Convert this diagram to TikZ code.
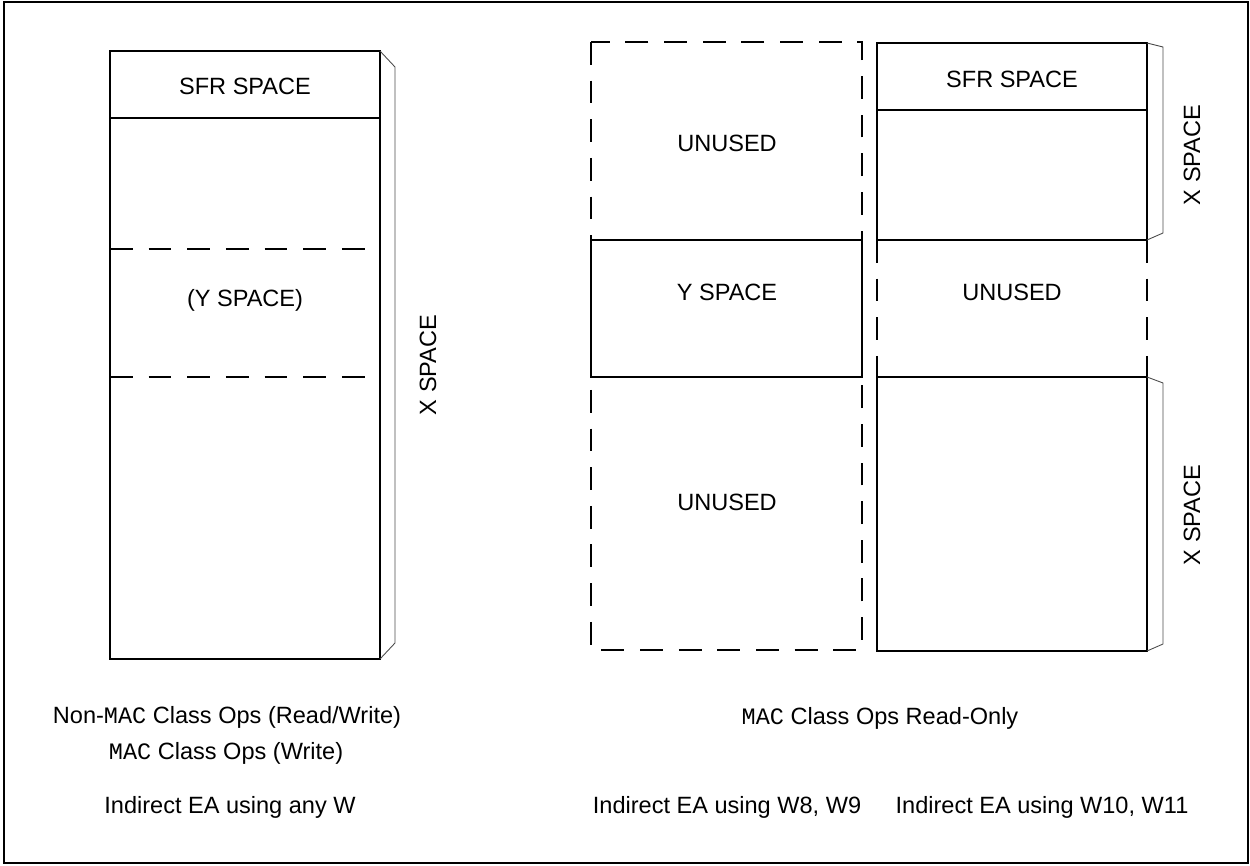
\documentclass[tikz,border=0pt]{standalone}
\usepackage{fontspec}
\setmainfont{Liberation Sans}
\setmonofont{Liberation Mono}
\begin{document}
\begin{tikzpicture}[x=0.02cm, y=-0.02cm, line width=1.1pt,
    lbl/.style={font=\fontsize{13.4}{16}\selectfont, inner sep=0pt},
    vlbl/.style={lbl, rotate=90},
    dash line/.style={dash pattern=on 13pt off 9pt},
    side/.style={line width=0.5pt, draw=black!70}]

    \useasboundingbox (0,0) rectangle (1250,865);
    \draw (4,2) rectangle (1248,863);

    % left column
    \draw (110,51) rectangle (380,659);
    \draw (110,118) -- (380,118);
    \draw[dash line] (110,249) -- (380,249);
    \draw[dash line] (110,377) -- (380,377);
    \draw[side] (380,51) -- (395,67) -- (395,643) -- (380,659);

    \node[lbl] at (245,86) (sfrl) {SFR SPACE};
    \node[lbl] at (245,300) (yl) {(Y SPACE)};
    \node[vlbl] at (428,365) (xl) {X SPACE};

    % middle column
    \draw[dash line] (591,42) rectangle (862,650);
    \draw (591,240) rectangle (862,377);

    \node[lbl] at (727,143) (unm1) {UNUSED};
    \node[lbl] at (727,292) (ym) {Y SPACE};
    \node[lbl] at (727,502) (unm2) {UNUSED};

    % right column
    \draw (877,43) rectangle (1147,240);
    \draw (877,110) -- (1147,110);
    \draw[dash line] (877,240) -- (877,377);
    \draw[dash line] (1147,240) -- (1147,377);
    \draw (877,377) rectangle (1147,651);
    \draw[side] (1147,43) -- (1163,47) -- (1163,233) -- (1147,240);
    \draw[side] (1147,377) -- (1163,383) -- (1163,644) -- (1147,651);

    \node[lbl] at (1012,79) (sfrr) {SFR SPACE};
    \node[lbl] at (1012,292) (unr) {UNUSED};
    \node[vlbl] at (1192,155) (xr1) {X SPACE};
    \node[vlbl] at (1192,515) (xr2) {X SPACE};

    % captions
    \node[lbl] at (227,717) (capl1) {Non-\texttt{MAC} Class Ops (Read/Write)};
    \node[lbl] at (226,753) (capl2) {\texttt{MAC} Class Ops (Write)};
    \node[lbl] at (230,807) (capl3) {Indirect EA using any W};
    \node[lbl] at (880,718) (capm) {\texttt{MAC} Class Ops Read-Only};
    \node[lbl] at (727,807) (capm2) {Indirect EA using W8, W9};
    \node[lbl] at (1042,807) (capr) {Indirect EA using W10, W11};
\end{tikzpicture}
\end{document}
